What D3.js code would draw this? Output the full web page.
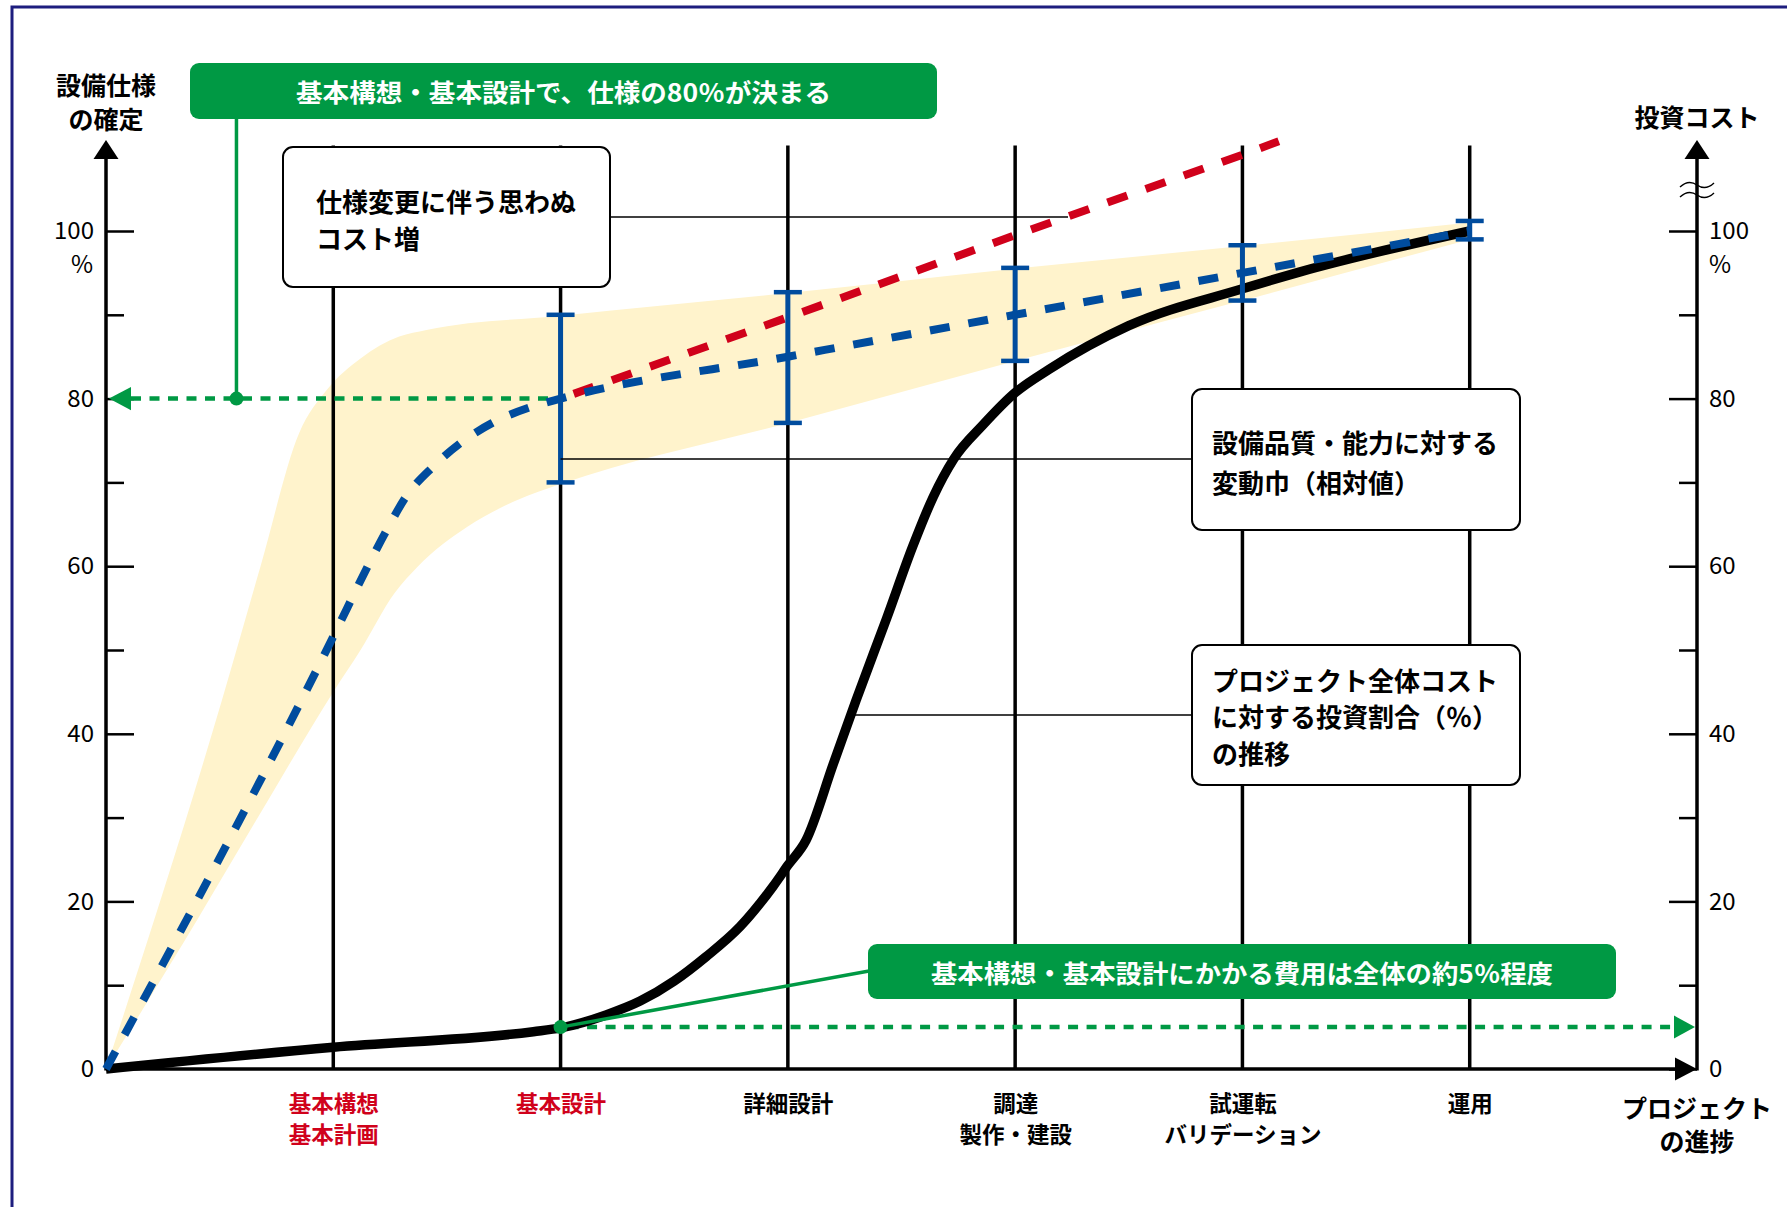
<!DOCTYPE html>
<html><head><meta charset="utf-8">
<script src="https://cdn.jsdelivr.net/npm/d3@7/dist/d3.min.js"></script>
<style>
html,body{margin:0;padding:0;background:#fff;}
svg{display:block;}
text{font-family:"Noto Sans CJK JP","Noto Sans",sans-serif;}
</style></head><body>
<svg id="chart" width="1787" height="1207"></svg>
<script>
// ---------------- data ----------------
const stageLabels = [["基本構想","基本計画"],["基本設計"],["詳細設計"],["調達","製作・建設"],["試運転","バリデーション"],["運用"]];
const stageHighlight = [true, true, false, false, false, false];
const stageValues = [1, 2, 3, 4, 5, 6];
const majorTicks = [0, 20, 40, 60, 80, 100];
const minorTicks = [10, 30, 50, 70, 90];
const leftTitle = ["設備仕様", "の確定"];
const rightTitle = ["投資コスト"];
const xTitle = ["プロジェクト", "の進捗"];

// spec determination (blue dashed), [stage, %]
const specCurve = [[0,0],[1,51.6],[1.15,59.9],[1.235,64.3],[1.32,68.3],[1.44,71.9],[1.56,74.7],[1.7,77.1],[1.87,79],[2,80],[3,85],[4,90],[5,95],[6,100]];
// unexpected cost increase (red dashed)
const overrunCurve = [[2,80],[3,89.7],[4,99.5],[5,109.1],[5.16,110.7]];
// investment ratio (black)
const costCurve = [[0,0],[1,2.6],[1.88,4.45],[2,4.9],[2.2,6.45],[2.35,8.1],[2.5,10.5],[2.64,13.4],[2.79,17],[2.935,21.8],[3,24.3],[3.08,27.3],[3.2,36.4],[3.3,44],[3.435,53.8],[3.55,62.4],[3.64,68.3],[3.73,72.8],[3.86,76.9],[4,80.7],[4.15,83.5],[4.5,88.7],[5,93.1],[5.25,95.1],[6,100]];
// variation band
const bandUpper = [[0,0],[0.51,44],[0.68,60],[0.85,75.9],[0.97,81],[1.12,84.8],[1.29,87.4],[1.41,88.2],[2,89.9],[3,92.6],[4,95.5],[5,98.2],[6,101]];
const bandLower = [[0,0],[0.41,18.2],[0.67,30.1],[1,45],[1.12,50],[1.27,56.8],[1.37,59.9],[1.59,64.7],[1.81,67.9],[2,69.8],[3,77.1],[4,84.5],[5,91.7],[6,99]];
// error bars
const errStages = [2, 3, 4, 5, 6];
const errLow = [70, 77.1, 84.5, 91.7, 99];
const errHigh = [90, 92.7, 95.6, 98.3, 101.2];
// annotations
const banner1Text = "基本構想・基本設計で、仕様の80％が決まる";
const banner2Text = "基本構想・基本設計にかかる費用は全体の約5％程度";
const callout1Lines = ["仕様変更に伴う思わぬ", "コスト増"];
const callout2Lines = ["設備品質・能力に対する", "変動巾（相対値）"];
const callout3Lines = ["プロジェクト全体コスト", "に対する投資割合（％）", "の推移"];
const specLevel = 80;
const costLevel = 5;

// ---------------- style ----------------
const C = {green:"#009944", blue:"#004c9e", red:"#d0011b", band:"#fff3cc", navy:"#1d1d7e", black:"#000"};
const FONT = '"Noto Sans CJK JP","Noto Sans",sans-serif';

const svg = d3.select("#chart");
const x = d3.scaleLinear().domain([0, 7]).range([106, 1697]);
const y = d3.scaleLinear().domain([0, 100]).range([1069, 231]);
const X0 = x(0), XR = x(7), Y0 = y(0);
const axisTop = 159, arrowTip = 140, gridTopVal = 110.2;

// frame
svg.append("path").attr("d", `M12,1207 L12,7 L1787,7`).attr("fill","none").attr("stroke",C.navy).attr("stroke-width",3);

// band
const lineGen = d3.line().x(d => x(d[0])).y(d => y(d[1])).curve(d3.curveMonotoneX);
const upPath = lineGen(bandUpper);
const loPath = lineGen(bandLower.slice().reverse());
svg.append("path").attr("d", upPath + "L" + loPath.slice(1) + "Z").attr("fill", C.band);

// vertical stage lines
svg.append("g").selectAll("line").data(stageValues).join("line")
  .attr("x1", d => x(d)).attr("x2", d => x(d))
  .attr("y1", y(gridTopVal)).attr("y2", Y0)
  .attr("stroke", C.black).attr("stroke-width", 3.5);

// axis ticks
function styleAxis(g){
  g.select(".domain").remove();
  g.attr("font-family", FONT).attr("font-size", 24);
  g.selectAll(".tick line").attr("stroke", C.black).attr("stroke-width", 2.5);
  g.selectAll(".tick text").attr("fill", C.black);
}
svg.append("g").attr("transform", `translate(${X0},0)`)
  .call(d3.axisLeft(y).tickValues(majorTicks).tickSize(-28).tickPadding(12).tickFormat(d3.format("d"))).call(styleAxis);
svg.append("g").attr("transform", `translate(${X0},0)`)
  .call(d3.axisLeft(y).tickValues(minorTicks).tickSize(-18).tickFormat("")).call(styleAxis);
svg.append("g").attr("transform", `translate(${XR},0)`)
  .call(d3.axisRight(y).tickValues(majorTicks).tickSize(-28).tickPadding(12).tickFormat(d3.format("d"))).call(styleAxis);
svg.append("g").attr("transform", `translate(${XR},0)`)
  .call(d3.axisRight(y).tickValues(minorTicks).tickSize(-18).tickFormat("")).call(styleAxis);
// % under 100
svg.append("text").attr("x", X0 - 13).attr("y", y(100) + 31).attr("text-anchor","end").attr("dominant-baseline","central")
  .attr("font-size", 24).text("%");
svg.append("text").attr("x", XR + 12).attr("y", y(100) + 31).attr("text-anchor","start").attr("dominant-baseline","central")
  .attr("font-size", 24).text("%");

// axis lines + arrows
[X0, XR].forEach(ax => {
  svg.append("line").attr("x1", ax).attr("x2", ax).attr("y1", Y0 + 1.5).attr("y2", axisTop)
    .attr("stroke", C.black).attr("stroke-width", 3.5);
  svg.append("path").attr("d", `M${ax-12.5},${axisTop} L${ax},${arrowTip} L${ax+12.5},${axisTop} Z`).attr("fill", C.black);
});
svg.append("line").attr("x1", X0).attr("x2", XR - 22).attr("y1", Y0).attr("y2", Y0)
  .attr("stroke", C.black).attr("stroke-width", 3.5);
svg.append("path").attr("d", `M${XR-22},${Y0-11.5} L${XR},${Y0} L${XR-22},${Y0+11.5} Z`).attr("fill", C.black);

// break mark on right axis
[185, 195].forEach(yy => {
  svg.append("path").attr("d", `M${XR-17},${yy+2} Q${XR-8.5},${yy-6} ${XR},${yy} T${XR+17},${yy-2}`)
    .attr("fill","none").attr("stroke", C.black).attr("stroke-width", 1.4);
});

// x axis stage labels
const xg = svg.append("g").attr("transform", `translate(0,${Y0})`)
  .call(d3.axisBottom(x).tickValues(stageValues).tickSize(0).tickFormat(""));
xg.select(".domain").remove();
xg.selectAll(".tick").each(function(d, i){
  const t = d3.select(this).append("text").attr("text-anchor","middle")
    .attr("font-family", FONT).attr("font-size", 22.5).attr("font-weight", 700)
    .attr("fill", stageHighlight[i] ? C.red : C.black);
  stageLabels[i].forEach((ln, k) => {
    t.append("tspan").attr("x", 0).attr("y", 33 + k * 31).attr("dominant-baseline","central").text(ln);
  });
});

// axis titles
function multiText(lines, cx, cy, lh, size, anchor){
  const t = svg.append("text").attr("text-anchor", anchor || "middle").attr("font-size", size).attr("font-weight", 700).attr("fill", C.black);
  lines.forEach((ln, k) => t.append("tspan").attr("x", cx).attr("y", cy + k * lh).attr("dominant-baseline","central").text(ln));
  return t;
}
multiText(leftTitle, X0, 84, 34, 25);
multiText(rightTitle, XR, 116, 34, 25);
multiText(xTitle, XR, 1107, 33, 25);

// green dotted guide lines
const specDotX = 0.574;
svg.append("line").attr("x1", x(0) + 25).attr("x2", x(2)).attr("y1", y(specLevel)).attr("y2", y(specLevel))
  .attr("stroke", C.green).attr("stroke-width", 4.5).attr("stroke-dasharray", "10 8.5");
svg.append("path").attr("d", `M${x(0)+3},${y(specLevel)} L${x(0)+25},${y(specLevel)-11.7} L${x(0)+25},${y(specLevel)+11.7} Z`).attr("fill", C.green);
svg.append("line").attr("x1", x(2) + 8).attr("x2", XR - 23).attr("y1", y(costLevel)).attr("y2", y(costLevel))
  .attr("stroke", C.green).attr("stroke-width", 4.5).attr("stroke-dasharray", "10 8.5");
svg.append("path").attr("d", `M${XR-2},${y(costLevel)} L${XR-23},${y(costLevel)-11.5} L${XR-23},${y(costLevel)+11.5} Z`).attr("fill", C.green);

// black investment curve
svg.append("path").attr("d", lineGen(costCurve)).attr("fill","none").attr("stroke", C.black).attr("stroke-width", 9.5);
// red dashed
svg.append("path").attr("d", d3.line().x(d => x(d[0])).y(d => y(d[1]))(overrunCurve)).attr("fill","none")
  .attr("stroke", C.red).attr("stroke-width", 8).attr("stroke-dasharray", "21 19.5").attr("stroke-dashoffset", -14);
// blue dashed
svg.append("path").attr("d", lineGen(specCurve)).attr("fill","none")
  .attr("stroke", C.blue).attr("stroke-width", 8).attr("stroke-dasharray", "20 19");

// error bars
const eb = svg.append("g").attr("stroke", C.blue);
errStages.forEach((s, i) => {
  eb.append("line").attr("x1", x(s)).attr("x2", x(s)).attr("y1", y(errLow[i])).attr("y2", y(errHigh[i])).attr("stroke-width", 5);
  [errLow[i], errHigh[i]].forEach(v => eb.append("line").attr("x1", x(s) - 14).attr("x2", x(s) + 14)
    .attr("y1", y(v)).attr("y2", y(v)).attr("stroke-width", 4.5));
});

// callout leaders
const leader = (x1, x2, yy) => svg.append("line").attr("x1", x1).attr("x2", x2).attr("y1", yy).attr("y2", yy)
  .attr("stroke", C.black).attr("stroke-width", 1.6);
leader(610, 1068, 217);
leader(x(2), 1192, 459);
leader(855, 1192, 715);

// callout boxes
function callout(bx, by, bw, bh, lines, tx, ty, lh){
  svg.append("rect").attr("x", bx).attr("y", by).attr("width", bw).attr("height", bh).attr("rx", 10)
    .attr("fill", "#fff").attr("stroke", C.black).attr("stroke-width", 2);
  multiText(lines, tx, ty, lh, 26, "start");
}
callout(283, 147, 327, 140, callout1Lines, 316, 200, 37);
callout(1192, 389, 328, 141, callout2Lines, 1212, 441, 40);
callout(1192, 645, 328, 140, callout3Lines, 1212, 679, 36.5);

// green banners + leaders
svg.append("line").attr("x1", x(specDotX)).attr("x2", x(specDotX)).attr("y1", 110).attr("y2", y(specLevel))
  .attr("stroke", C.green).attr("stroke-width", 3.5);
svg.append("line").attr("x1", x(2)).attr("y1", y(costLevel)).attr("x2", 880).attr("y2", 969)
  .attr("stroke", C.green).attr("stroke-width", 3.5);
function banner(bx, by, bw, bh, txt, len){
  svg.append("rect").attr("x", bx).attr("y", by).attr("width", bw).attr("height", bh).attr("rx", 9).attr("fill", C.green);
  svg.append("text").attr("x", bx + bw/2).attr("y", by + bh/2).attr("text-anchor","middle").attr("dominant-baseline","central")
    .attr("font-size", 25).attr("font-weight", 700).attr("fill", "#fff")
    .attr("textLength", len).attr("lengthAdjust", "spacingAndGlyphs").text(txt);
}
banner(190, 63, 747, 56, banner1Text, 535);
banner(868, 944, 748, 55, banner2Text, 622);

svg.append("circle").attr("cx", x(specDotX)).attr("cy", y(specLevel)).attr("r", 7).attr("fill", C.green);
svg.append("circle").attr("cx", x(2)).attr("cy", y(costLevel)).attr("r", 7).attr("fill", C.green);
</script>
</body></html>
